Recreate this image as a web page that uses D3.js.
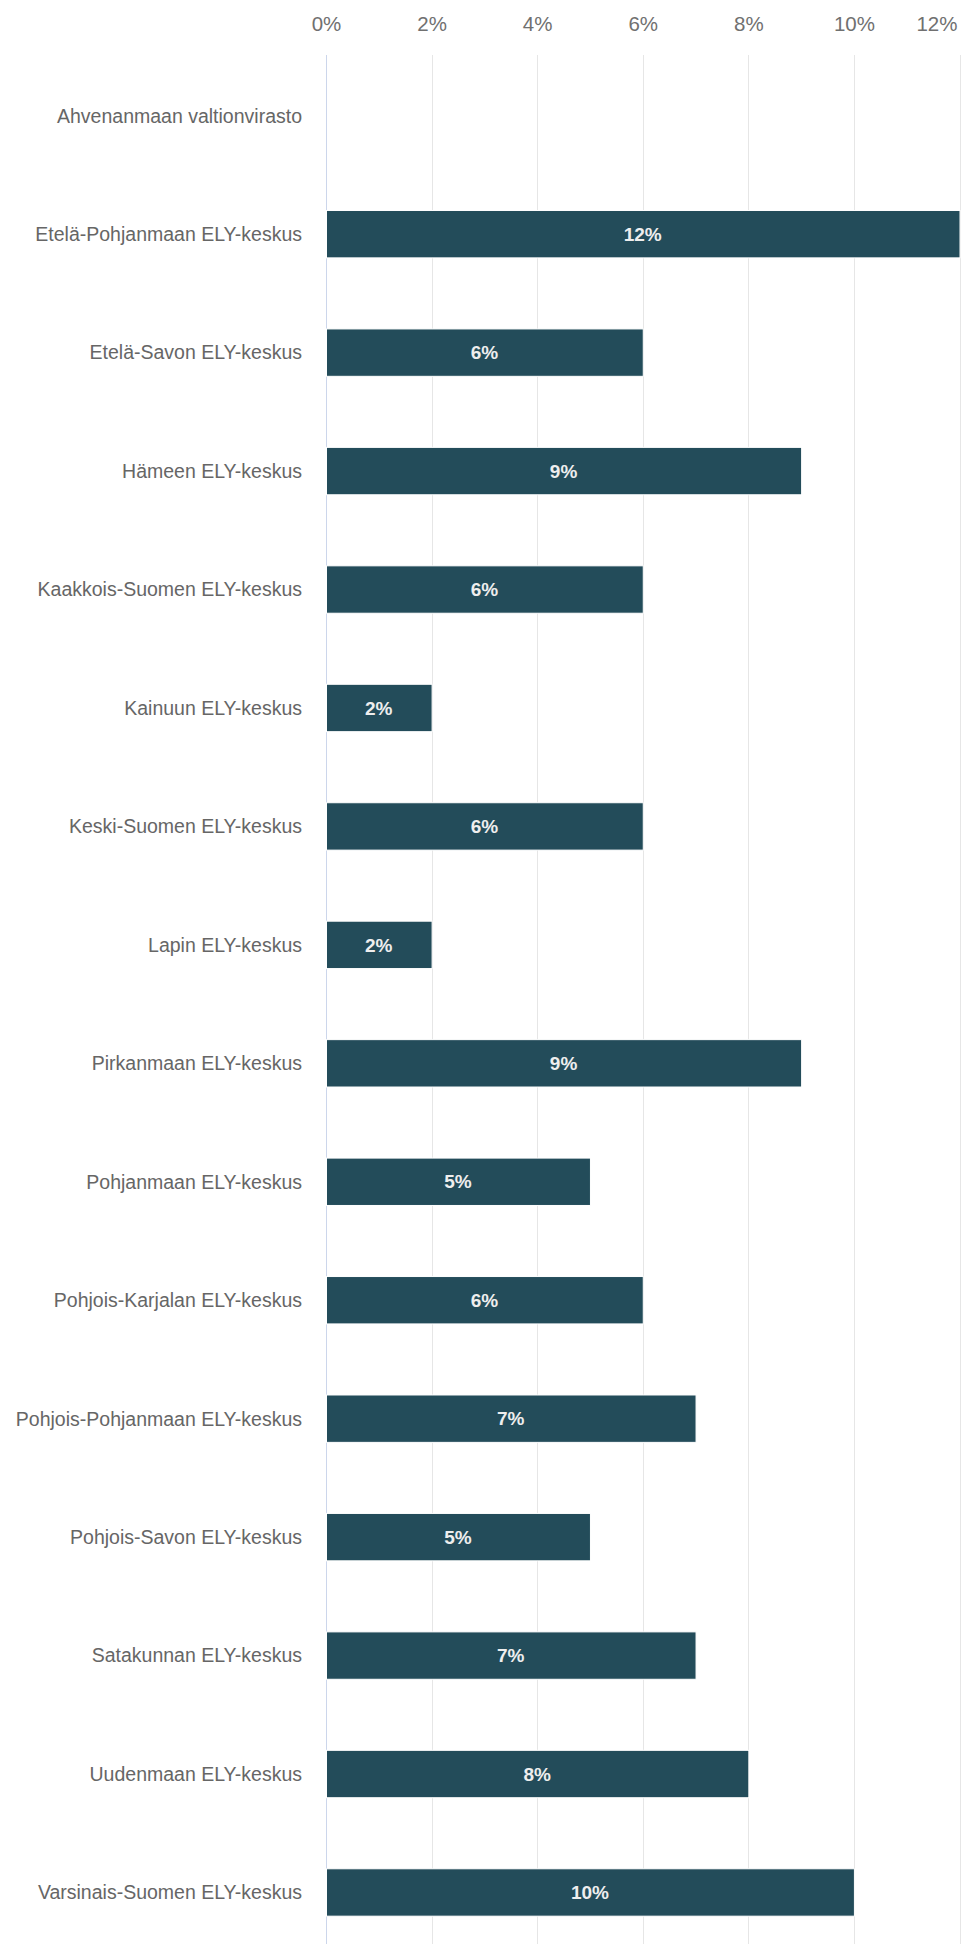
<!DOCTYPE html>
<html>
<head>
<meta charset="utf-8">
<script src="https://cdn.jsdelivr.net/npm/d3@7/dist/d3.min.js"></script>
<style>
html,body{margin:0;padding:0;background:#fff;}
svg{display:block;font-family:"Liberation Sans",Arial,Helvetica,sans-serif;}
</style>
</head>
<body>
<svg id="chart" width="964" height="1944"></svg>
<script>
const categories = [
  "Ahvenanmaan valtionvirasto",
  "Etelä-Pohjanmaan ELY-keskus",
  "Etelä-Savon ELY-keskus",
  "Hämeen ELY-keskus",
  "Kaakkois-Suomen ELY-keskus",
  "Kainuun ELY-keskus",
  "Keski-Suomen ELY-keskus",
  "Lapin ELY-keskus",
  "Pirkanmaan ELY-keskus",
  "Pohjanmaan ELY-keskus",
  "Pohjois-Karjalan ELY-keskus",
  "Pohjois-Pohjanmaan ELY-keskus",
  "Pohjois-Savon ELY-keskus",
  "Satakunnan ELY-keskus",
  "Uudenmaan ELY-keskus",
  "Varsinais-Suomen ELY-keskus"
];
const values = [0, 12, 6, 9, 6, 2, 6, 2, 9, 5, 6, 7, 5, 7, 8, 10];
const tickValues = [0, 2, 4, 6, 8, 10, 12];

const svg = d3.select("#chart");
const W = 964, H = 1944;

const x = d3.scaleLinear().domain([0, 12]).range([326, 959.5]);
const y = d3.scaleBand().domain(categories).range([56.5, 56.5 + 16 * 118.45])
  .paddingInner(0.6).paddingOuter(0.3);

// gridlines
const grid = svg.append("g");
grid.selectAll("line").data(tickValues).join("line")
  .attr("x1", d => Math.round(x(d)) + 0.5).attr("x2", d => Math.round(x(d)) + 0.5)
  .attr("y1", 55).attr("y2", H)
  .attr("stroke", d => d === 0 ? "#ccd6eb" : "#e6e6e6")
  .attr("stroke-width", 1);

// top axis labels
const xAxis = d3.axisTop(x).tickValues(tickValues).tickSize(0).tickFormat(d => d + "%");
const ax = svg.append("g").attr("transform", "translate(0,31)").call(xAxis);
ax.select(".domain").remove();
ax.selectAll("text")
  .attr("y", 0).attr("dy", 0)
  .attr("font-size", "20.5px").attr("fill", "#707070")
  .attr("font-family", '"Liberation Sans",Arial,sans-serif')
  .attr("text-anchor", d => d === 12 ? "end" : "middle")
  .attr("x", d => d === 12 ? 957 - x(d) : 0);

// category labels
const yAxis = d3.axisLeft(y).tickSize(0).tickPadding(0);
const ay = svg.append("g").attr("transform", "translate(302,0)").call(yAxis);
ay.select(".domain").remove();
ay.selectAll("text")
  .attr("font-size", "19.5px").attr("fill", "#666")
  .attr("font-family", '"Liberation Sans",Arial,sans-serif')
  .attr("dy", "0.35em");

// bars
const data = categories.map((c, i) => ({c, v: values[i]}));
svg.append("g").selectAll("rect").data(data.filter(d => d.v > 0)).join("rect")
  .attr("x", x(0) + 0.5)
  .attr("y", d => y(d.c))
  .attr("width", d => x(d.v) - x(0))
  .attr("height", y.bandwidth())
  .attr("fill", "#234c5a")
  .attr("stroke", "#ffffff")
  .attr("stroke-width", 1);

// data labels
svg.append("g").selectAll("text").data(data.filter(d => d.v > 0)).join("text")
  .attr("x", d => (x(0) + x(d.v)) / 2)
  .attr("y", d => y(d.c) + y.bandwidth() / 2)
  .attr("dy", "0.35em")
  .attr("text-anchor", "middle")
  .attr("font-size", "19px").attr("font-weight", "bold")
  .attr("fill", "#eeeeee")
  .text(d => d.v + "%");
</script>
</body>
</html>
